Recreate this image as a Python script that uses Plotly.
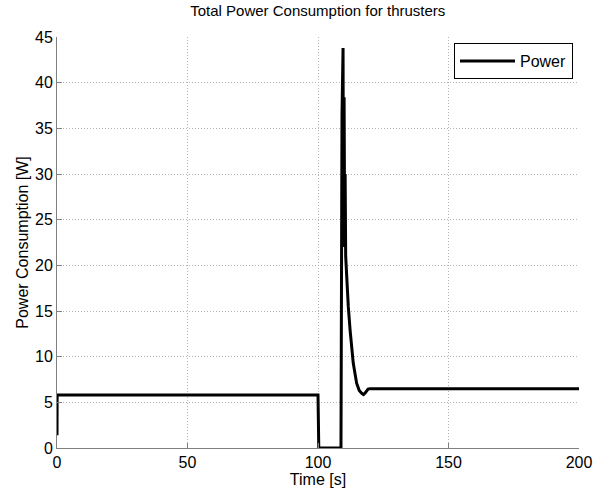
import plotly.graph_objects as go

time_s = [0.0, 0.05, 100.0, 100.3, 108.8, 108.9, 109.2, 109.6, 109.75, 110.0, 110.2, 110.4, 110.6,
          111.0, 111.6, 112.3, 113.5, 114.8, 115.8, 116.7, 117.4, 118.0, 118.6, 119.2, 119.9, 200.0]
power_w = [1.4, 5.8, 5.8, 0.0, 0.0, 23.0, 36.5, 43.8, 22.0, 38.4, 24.5, 30.0, 21.0,
           18.4, 15.5, 12.9, 9.3, 7.1, 6.3, 6.0, 5.85, 6.0, 6.2, 6.45, 6.5, 6.5]

x_ticks = [0, 50, 100, 150, 200]
y_ticks = [0, 5, 10, 15, 20, 25, 30, 35, 40, 45]

font = "Liberation Sans, Arial, sans-serif"

fig = go.Figure()
fig.add_trace(go.Scatter(x=time_s, y=power_w, mode="lines", name="Power",
                         line=dict(color="black", width=3)))

fig.update_layout(
    width=594, height=495,
    margin=dict(l=57, r=15, t=37, b=47, autoexpand=False),
    paper_bgcolor="white", plot_bgcolor="white",
    font=dict(family=font, size=16, color="black"),
    title=dict(text="Total Power Consumption for thrusters", x=0.535, xanchor="center",
               y=1 - 11 / 495, yanchor="middle", yref="container",
               font=dict(family=font, size=15, color="black")),
    showlegend=True,
    legend=dict(x=0.9885, xanchor="right", y=0.985, yanchor="top",
                bordercolor="black", borderwidth=1, bgcolor="white", itemwidth=55,
                font=dict(family=font, size=16, color="black")),
)
grid_kw = dict(showgrid=True, gridcolor="#b4b4b4", griddash="1px,2px", gridwidth=1,
               showline=True, linecolor="#808080", linewidth=1, mirror=False,
               ticks="inside", ticklen=5, tickcolor="#808080", zeroline=False,
               automargin=False)
fig.update_xaxes(range=[0, 200], tickvals=x_ticks, **grid_kw,
                 title=dict(text="Time [s]", standoff=2, font=dict(family=font, size=16)))
fig.update_yaxes(range=[0, 45], tickvals=y_ticks, **grid_kw,
                 title=dict(text="Power Consumption [W]", standoff=2, font=dict(family=font, size=16)))

fig.write_html("out.html", config={"displayModeBar": False},
               post_script="document.body.style.margin='0';")
